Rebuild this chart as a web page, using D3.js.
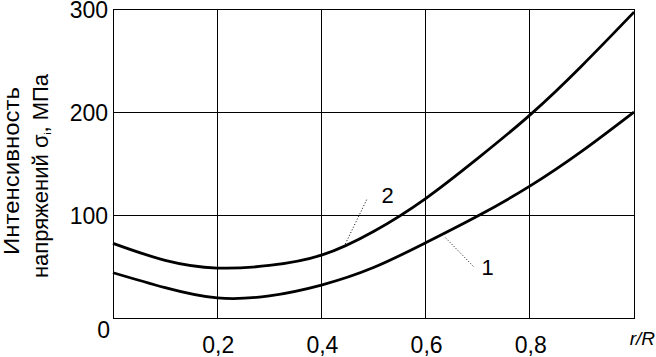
<!DOCTYPE html>
<html>
<head>
<meta charset="utf-8">
<script src="https://cdn.jsdelivr.net/npm/d3@7"></script>
<style>
  body { margin: 0; background: #fff; }
  svg { display: block; font-family: "Liberation Sans", Arial, sans-serif; }
</style>
</head>
<body>
<div id="chart"></div>
<script>
// r/R positions and stress intensity values (MPa)
const rR = [0, 0.1, 0.2, 0.3, 0.4, 0.5, 0.6, 0.7, 0.8, 0.9, 1.0];
const curve1 = [44, 29.5, 19.5, 21.5, 32, 49, 73, 99, 128, 162, 200];
const curve2 = [72.5, 56, 48.5, 51, 61, 84, 116, 155, 197, 245, 297];

const xTicks = [0.2, 0.4, 0.6, 0.8];
const xTickLabels = ["0,2", "0,4", "0,6", "0,8"];
const yTicks = [100, 200, 300];

// curve labels: [name, label r, label value, leader start r, start value, leader end r, end value]
const curveLabels = [
  ["2", 0.527, 119, 0.446, 72, 0.488, 116],
  ["1", 0.719, 50, 0.638, 78, 0.692, 50]
];

const drawChart = () => {
  const width = 656;
  const height = 357;

  const x = d3.scaleLinear().domain([0, 1]).range([113, 634]);
  const y = d3.scaleLinear().domain([0, 300]).range([318, 9]);

  const svg = d3.select("#chart")
      .append("svg")
      .attr("width", width)
      .attr("height", height);

  svg.append("rect")
      .attr("width", width)
      .attr("height", height)
      .attr("fill", "#fff");

  // grid
  svg.selectAll(".vgrid").data(xTicks).enter()
    .append("line")
      .attr("x1", d => x(d)).attr("x2", d => x(d))
      .attr("y1", y(0)).attr("y2", y(300))
      .attr("stroke", "#000").attr("stroke-width", 1)
      .attr("shape-rendering", "crispEdges");

  svg.selectAll(".hgrid").data(yTicks).enter()
    .append("line")
      .attr("x1", x(0)).attr("x2", x(1))
      .attr("y1", d => y(d)).attr("y2", d => y(d))
      .attr("stroke", "#000").attr("stroke-width", 1)
      .attr("shape-rendering", "crispEdges");

  svg.append("rect")
      .attr("x", x(0)).attr("y", y(300))
      .attr("width", x(1) - x(0)).attr("height", y(0) - y(300))
      .attr("fill", "none").attr("stroke", "#000").attr("stroke-width", 1)
      .attr("shape-rendering", "crispEdges");

  // y tick labels
  svg.selectAll(".ylab").data(yTicks).enter()
    .append("text")
      .attr("x", 108)
      .attr("y", d => y(d) + 9)
      .attr("text-anchor", "end")
      .attr("font-size", 23)
      .text(d => d);

  svg.append("text")
      .attr("x", 110).attr("y", 338)
      .attr("text-anchor", "end")
      .attr("font-size", 23)
      .text("0");

  // x tick labels
  svg.selectAll(".xlab").data(xTicks).enter()
    .append("text")
      .attr("x", d => x(d) + 1)
      .attr("y", 353)
      .attr("text-anchor", "middle")
      .attr("font-size", 23)
      .text((d, i) => xTickLabels[i]);

  svg.append("text")
      .attr("x", 655).attr("y", 345)
      .attr("text-anchor", "end")
      .attr("font-size", 19)
      .attr("font-style", "italic")
      .text("r/R");

  // y axis title
  svg.append("text")
      .attr("transform", "translate(19,171) rotate(-90)")
      .attr("text-anchor", "middle")
      .attr("font-size", 22)
      .attr("textLength", 168)
      .attr("lengthAdjust", "spacingAndGlyphs")
      .text("Интенсивность");

  const t2 = svg.append("text")
      .attr("transform", "translate(48,176) rotate(-90)")
      .attr("text-anchor", "middle")
      .attr("font-size", 22);
  t2.append("tspan").text("напряжений σ");
  t2.append("tspan").attr("font-size", 9).attr("dy", 3).text("i");
  t2.append("tspan").attr("dy", -3).text(", МПа");

  // curves
  const line = d3.line()
      .x((d, i) => x(rR[i]))
      .y(d => y(d))
      .curve(d3.curveNatural);

  [curve1, curve2].forEach(values => {
    svg.append("path")
        .datum(values)
        .attr("d", line)
        .attr("fill", "none")
        .attr("stroke", "#000")
        .attr("stroke-width", 2.8);
  });

  // curve labels with dotted leaders
  curveLabels.forEach(([name, lr, lv, r0, v0, r1, v1]) => {
    svg.append("line")
        .attr("x1", x(r0)).attr("y1", y(v0))
        .attr("x2", x(r1)).attr("y2", y(v1))
        .attr("stroke", "#000").attr("stroke-width", 1)
        .attr("stroke-dasharray", "1,2");
    svg.append("text")
        .attr("x", x(lr)).attr("y", y(lv) + 8)
        .attr("text-anchor", "middle")
        .attr("font-size", 22)
        .text(name);
  });
};

window.onload = drawChart;
</script>
</body>
</html>
